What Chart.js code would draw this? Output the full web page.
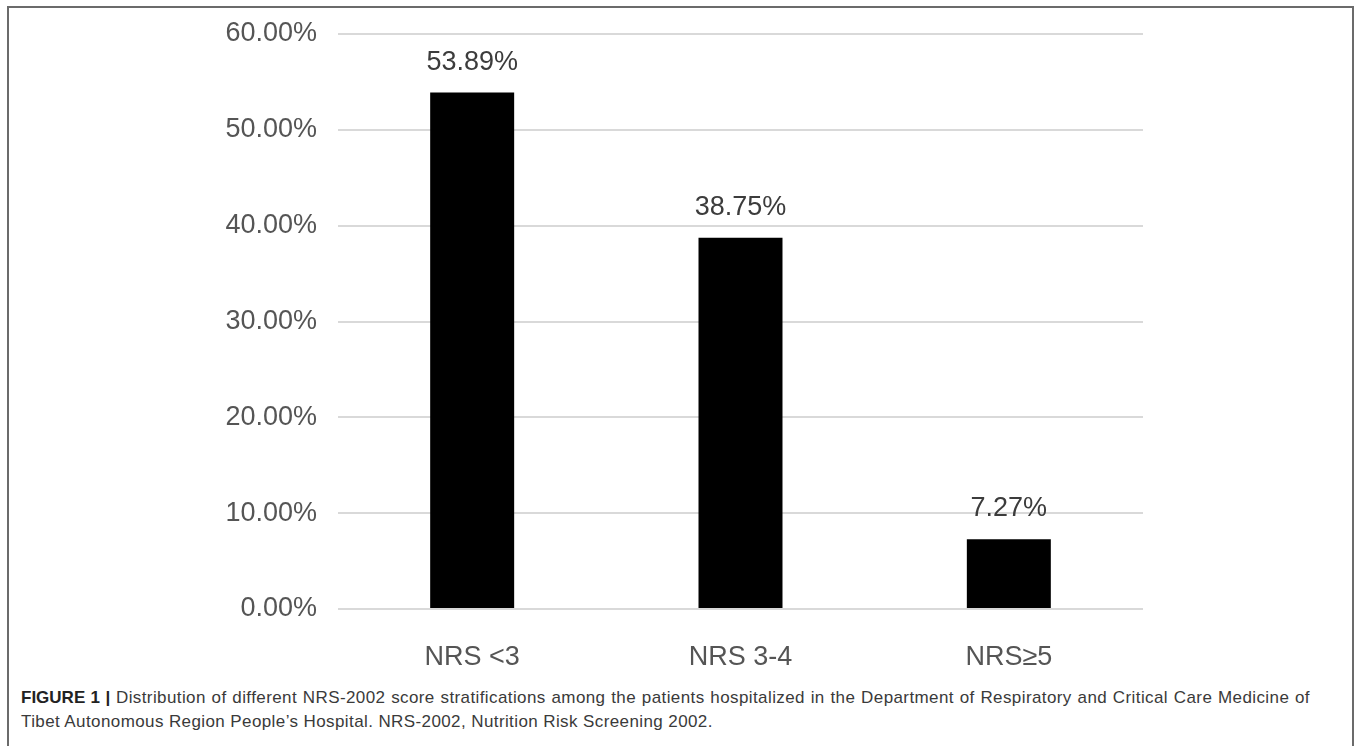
<!DOCTYPE html>
<html>
<head>
<meta charset="utf-8">
<script src="https://cdn.jsdelivr.net/npm/chart.js@4.4.1/dist/chart.umd.min.js"></script>
<style>
    html, body { margin: 0; padding: 0; background: #fff; overflow: hidden; }
    body { width: 1357px; height: 746px; position: relative; font-family: "Liberation Sans", Arial, sans-serif; }
    #marco { position: absolute; left: 7px; top: 6px; width: 1347px; height: 780px; border: 2px solid #6b6b6b; box-sizing: border-box; }
    #contenedor { position: absolute; left: 0; top: 0; width: 1357px; height: 680px; }
    #leyenda { position: absolute; left: 21px; top: 686px; width: 1289px; font-size: 17px; letter-spacing: 0.4px; line-height: 24px; color: #3a3a3a; white-space: nowrap; }
    #leyenda .linea1 { text-align: justify; text-align-last: justify; }
    #leyenda b { color: #222; letter-spacing: 0; }
</style>
</head>
<body>
<div id="marco"></div>
<div id="contenedor"><canvas id="graficoNRS"></canvas></div>
<div id="leyenda">
    <div class="linea1"><b>FIGURE 1 |</b> Distribution of different NRS-2002 score stratifications among the patients hospitalized in the Department of Respiratory and Critical Care Medicine of</div>
    <div>Tibet Autonomous Region People’s Hospital. NRS-2002, Nutrition Risk Screening 2002.</div>
</div>
<script>
const categorias = ["NRS <3", "NRS 3-4", "NRS≥5"];
const porcentajes = [53.89, 38.75, 7.27];
const ticksY = [0, 10, 20, 30, 40, 50, 60];

// etiquetas encima de cada barra
const etiquetasBarras = {
    id: "etiquetasBarras",
    afterDatasetsDraw(chart) {
        let ctx = chart.ctx;
        let meta = chart.getDatasetMeta(0);
        ctx.save();
        ctx.font = "27px 'Liberation Sans', Arial, sans-serif";
        ctx.fillStyle = "#3c3c3c";
        ctx.textAlign = "center";
        ctx.textBaseline = "alphabetic";
        meta.data.forEach((barra, i) => {
            ctx.fillText(porcentajes[i].toFixed(2) + "%", barra.x, barra.y - 23);
        });
        ctx.restore();
    }
};

function generarGrafico() {
    new Chart(document.getElementById("graficoNRS"), {
        type: "bar",
        data: {
            labels: categorias,
            datasets: [{
                data: porcentajes,
                backgroundColor: "#000000",
                categoryPercentage: 0.313,
                barPercentage: 1
            }]
        },
        options: {
            responsive: true,
            maintainAspectRatio: false,
            animation: false,
            layout: {
                padding: { left: 0, right: 214, top: 34, bottom: 0 }
            },
            plugins: {
                legend: { display: false },
                tooltip: { enabled: false }
            },
            scales: {
                x: {
                    grid: { display: false },
                    border: { display: false },
                    ticks: {
                        color: "#555555",
                        padding: 24,
                        font: { family: "'Liberation Sans', Arial, sans-serif", size: 27 }
                    },
                    afterFit(escala) {
                        escala.height = 71;
                        escala.paddingLeft = 0;
                        escala.paddingRight = 0;
                    }
                },
                y: {
                    min: 0,
                    max: 60,
                    afterBuildTicks(escala) {
                        escala.ticks = ticksY.map(v => ({ value: v }));
                    },
                    grid: { color: "#d9d9d9", lineWidth: 2, drawTicks: false },
                    border: { display: false },
                    ticks: {
                        color: "#555555",
                        padding: 21,
                        font: { family: "'Liberation Sans', Arial, sans-serif", size: 27 },
                        callback: v => v.toFixed(2) + "%"
                    },
                    afterFit(escala) {
                        escala.width = 338;
                        escala.paddingTop = 0;
                        escala.paddingBottom = 0;
                    }
                }
            }
        },
        plugins: [etiquetasBarras]
    });
}

document.addEventListener("DOMContentLoaded", () => {
    generarGrafico();
});
</script>
</body>
</html>
